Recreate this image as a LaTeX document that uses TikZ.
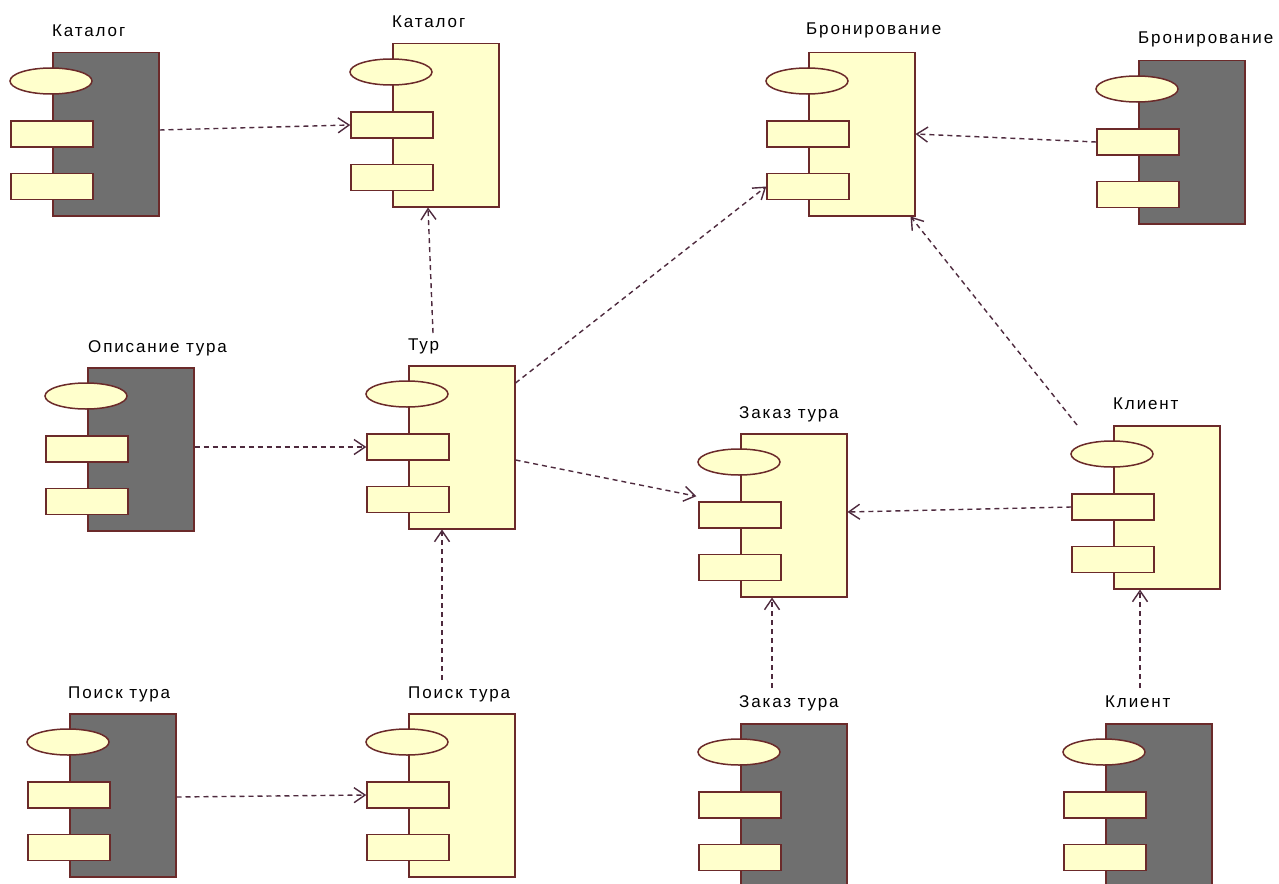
\documentclass[tikz,border=0pt]{standalone}
\usepackage{fontspec}
\setmainfont{Liberation Sans}[LetterSpace=11]
\usetikzlibrary{shapes.geometric,arrows.meta,calc}
\definecolor{compline}{HTML}{6B2A2A}
\definecolor{compyel}{HTML}{FFFFCC}
\definecolor{compgray}{HTML}{6F6F6F}
\definecolor{deplink}{HTML}{4E2A3E}
\tikzset{
  body/.style={draw=compline, line width=1.5pt, minimum width=106pt, minimum height=163pt, anchor=north west, inner sep=0pt},
  yelbody/.style={body, fill=compyel},
  graybody/.style={body, fill=compgray},
  lolli/.style={ellipse, draw=compline, fill=compyel, line width=1.5pt, minimum width=82pt, minimum height=26pt, inner sep=0pt},
  port/.style={rectangle, draw=compline, fill=compyel, line width=1.5pt, minimum width=82pt, minimum height=26pt, inner sep=0pt},
  lbl/.style={anchor=base west, inner sep=0pt, font=\fontsize{17}{20}\selectfont},
  dep/.style={draw=deplink, line width=1.4pt, dash pattern=on 5pt off 4pt, -{Straight Barb[length=11pt,width=15pt]}},
}
\newcommand\umlcomp[4]{%
  \node[#4] (#1) at (#2,#3) {};
  \node[lolli] (#1-e) at ($(#2,#3)+(-1,29)$) {};
  \node[port] (#1-p1) at ($(#2,#3)+(0,82)$) {};
  \node[port] (#1-p2) at ($(#2,#3)+(0,134.5)$) {};
}
\begin{document}
\begin{tikzpicture}[x=1pt,y=-1pt]
\useasboundingbox (0,0) rectangle (1279,883);
\fill[white] (0,0) rectangle (1279,883);
\clip (0,0) rectangle (1279,883);
% components
\umlcomp{cat1}{52}{52}{graybody}
\umlcomp{cat2}{392}{43}{yelbody}
\umlcomp{bron}{808}{52}{yelbody}
\umlcomp{bron2}{1138}{60}{graybody}
\umlcomp{opis}{87}{367}{graybody}
\umlcomp{tur}{408}{365}{yelbody}
\umlcomp{zak}{740}{433}{yelbody}
\umlcomp{kl}{1113}{425}{yelbody}
\umlcomp{poisk1}{69}{713}{graybody}
\umlcomp{poisk2}{408}{713}{yelbody}
\umlcomp{zak2}{740}{723}{graybody}
\umlcomp{kl2}{1105}{723}{graybody}
% labels
\node[lbl] (cat1-l) at (52,37) {Каталог};
\node[lbl] (cat2-l) at (392,28) {Каталог};
\node[lbl] (bron-l) at (806,35) {Бронирование};
\node[lbl] (bron2-l) at (1138,44) {Бронирование};
\node[lbl] (opis-l) at (88,352) {Описание тура};
\node[lbl] (tur-l) at (408,350) {Тур};
\node[lbl] (zak-l) at (739,418) {Заказ тура};
\node[lbl] (kl-l) at (1113,409) {Клиент};
\node[lbl] (poisk1-l) at (68,698) {Поиск тура};
\node[lbl] (poisk2-l) at (408,698) {Поиск тура};
\node[lbl] (zak2-l) at (739,707) {Заказ тура};
\node[lbl] (kl2-l) at (1105,707) {Клиент};
% free ends
\coordinate (tur-src) at (433,333);
\coordinate (kl-src) at (1077,425);
\coordinate (poisk2-src) at (442,680);
\coordinate (zak2-src) at (772,688);
\coordinate (kl2-src) at (1140,688);
% dependencies
\draw[dep] ($(cat1.north east)+(0,78)$) -- (cat2-p1.west);
\draw[dep] (tur-src) -- ($(cat2.south west)+(36,0)$);
\draw[dep] ($(tur.north east)+(0,18)$) -- (bron-p2.west);
\draw[dep] (bron2-p1.west) -- ($(bron.north east)+(0,82)$);
\draw[dep] (kl-src) -- ($(bron.south east)+(-5,0)$);
\draw[dep] ($(opis.north east)+(0,80)$) -- (tur-p1.west);
\draw[dep] ($(tur.north east)+(0,95)$) -- ($(zak-p1.north west)+(-2,-5)$);
\draw[dep] (kl-p1.west) -- ($(zak.north east)+(0,79)$);
\draw[dep] (poisk2-src) -- ($(tur.south west)+(34,0)$);
\draw[dep] ($(poisk1.north east)+(0,84)$) -- (poisk2-p1.west);
\draw[dep] (zak2-src) -- ($(zak.south west)+(32,0)$);
\draw[dep] (kl2-src) -- ($(kl.south west)+(27,0)$);
\end{tikzpicture}
\end{document}
